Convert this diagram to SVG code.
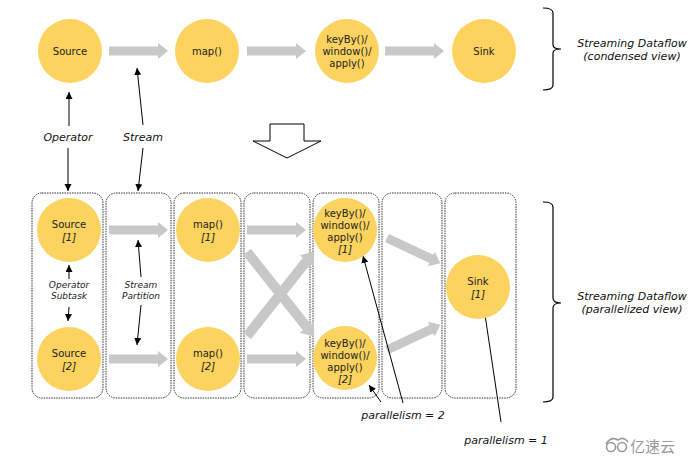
<svg xmlns="http://www.w3.org/2000/svg" width="695" height="459" viewBox="0 0 695 459">
<style>
.op{fill:#FBD35E}
.t{font-family:"DejaVu Sans",Verdana,sans-serif;font-size:10px;fill:#222;text-anchor:middle}
.i{font-style:italic}
.p{font-family:"DejaVu Sans",Verdana,sans-serif;font-size:11px;font-style:italic;fill:#111;text-anchor:middle}
.lab{font-family:"DejaVu Sans",Verdana,sans-serif;font-size:11px;font-style:italic;fill:#111;text-anchor:middle}
.sm{font-family:"DejaVu Sans",Verdana,sans-serif;font-size:9px;font-style:italic;fill:#222;text-anchor:middle}
.box{fill:none;stroke:#333;stroke-width:1;stroke-dasharray:1.5 1}
.ga{fill:#C8C8C8}
.ln{stroke:#000;stroke-width:1;fill:none;marker-end:url(#ah)}
.br{stroke:#000;stroke-width:1.2;fill:none}
</style>
<defs>
<marker id="ah" markerWidth="9" markerHeight="8" refX="7" refY="3.5" orient="auto" markerUnits="userSpaceOnUse">
<path d="M0,0 L7,3.5 L0,7 Z" fill="#000"/>
</marker>
<polygon id="harr" points="0,-4.5 49,-4.5 49,-8 59,0 49,8 49,4.5 0,4.5"/>
<polygon id="darr" points="0,-5 96,-5 96,-9 108,0 96,9 96,5 0,5"/>
</defs>

<g id="big-arrow">
<polygon points="270,124 304,124 304,141 321,141 287,158 253,141 270,141" fill="#fff" stroke="#000" stroke-width="1"/>
</g>

<g id="boxes">
<rect class="box" x="32" y="193" width="71" height="205" rx="10"/>
<rect class="box" x="106" y="193" width="65" height="205" rx="10"/>
<rect class="box" x="174" y="193" width="67" height="205" rx="10"/>
<rect class="box" x="244" y="193" width="66" height="205" rx="10"/>
<rect class="box" x="313" y="193" width="66" height="205" rx="10"/>
<rect class="box" x="382" y="193" width="60" height="205" rx="10"/>
<rect class="box" x="445" y="193" width="71" height="205" rx="10"/>
</g>

<g id="connectors">
<use href="#harr" class="ga" x="109" y="51"/>
<use href="#harr" class="ga" x="247" y="51"/>
<use href="#harr" class="ga" x="385" y="51"/>
<use href="#harr" class="ga" x="109" y="230"/>
<use href="#harr" class="ga" x="109" y="359"/>
<use href="#harr" class="ga" x="247" y="230"/>
<use href="#harr" class="ga" x="247" y="359"/>
<use href="#darr" class="ga" transform="translate(247,252) rotate(51.5)"/>
<use href="#darr" class="ga" transform="translate(247,336) rotate(-51.5)"/>
<use href="#harr" class="ga" transform="translate(387,238) rotate(25.3)"/>
<use href="#harr" class="ga" transform="translate(387,350) rotate(-25.3)"/>

<line class="ln" x1="69" y1="126" x2="69" y2="92"/>
<line class="ln" x1="68" y1="148" x2="68" y2="191"/>
<line class="ln" x1="143" y1="125" x2="137" y2="68"/>
<line class="ln" x1="143" y1="148" x2="138" y2="191"/>
<line class="ln" x1="69" y1="279" x2="69" y2="265"/>
<line class="ln" x1="69" y1="307" x2="68" y2="321"/>
<line class="ln" x1="141" y1="277" x2="138" y2="240"/>
<line class="ln" x1="141" y1="305" x2="137" y2="345"/>
<line class="ln" x1="403" y1="403" x2="363" y2="256"/>
<line class="ln" x1="381" y1="402" x2="369" y2="385"/>
<line class="ln" x1="501" y1="422" x2="484" y2="308"/>
</g>

<g id="source">
<circle class="op" cx="70" cy="51" r="32"/>
<text class="t" x="70" y="55">Source</text>
</g>
<g id="map">
<circle class="op" cx="207" cy="51" r="32"/>
<text class="t" x="207" y="55">map()</text>
</g>
<g id="keyby">
<circle class="op" cx="347" cy="51" r="32"/>
<text class="t" x="347" y="43">keyBy()/</text>
<text class="t" x="347" y="55">window()/</text>
<text class="t" x="347" y="67">apply()</text>
</g>
<g id="sink">
<circle class="op" cx="484" cy="51" r="32"/>
<text class="t" x="484" y="55">Sink</text>
</g>

<g id="source1">
<circle class="op" cx="69" cy="230" r="32"/>
<text class="t" x="69" y="228">Source</text>
<text class="t i" x="69" y="241">[1]</text>
</g>
<g id="source2">
<circle class="op" cx="69" cy="359" r="32"/>
<text class="t" x="69" y="357">Source</text>
<text class="t i" x="69" y="370">[2]</text>
</g>
<g id="map1">
<circle class="op" cx="208" cy="230" r="32"/>
<text class="t" x="208" y="228">map()</text>
<text class="t i" x="208" y="241">[1]</text>
</g>
<g id="map2">
<circle class="op" cx="208" cy="359" r="32"/>
<text class="t" x="208" y="357">map()</text>
<text class="t i" x="208" y="370">[2]</text>
</g>
<g id="keyby1">
<circle class="op" cx="345" cy="230" r="32"/>
<text class="t" x="345" y="217">keyBy()/</text>
<text class="t" x="345" y="229">window()/</text>
<text class="t" x="345" y="241">apply()</text>
<text class="t i" x="345" y="253">[1]</text>
</g>
<g id="keyby2">
<circle class="op" cx="345" cy="358" r="32"/>
<text class="t" x="345" y="347">keyBy()/</text>
<text class="t" x="345" y="359">window()/</text>
<text class="t" x="345" y="371">apply()</text>
<text class="t i" x="345" y="383">[2]</text>
</g>
<g id="sink1">
<circle class="op" cx="478" cy="287" r="32"/>
<text class="t" x="478" y="285">Sink</text>
<text class="t i" x="478" y="298">[1]</text>
</g>

<g id="labels">
<text class="lab" x="68" y="141">Operator</text>
<text class="lab" x="143" y="141">Stream</text>
<text class="sm" x="69" y="288">Operator</text>
<text class="sm" x="69" y="299">Subtask</text>
<text class="sm" x="141" y="288">Stream</text>
<text class="sm" x="141" y="299">Partition</text>
<text class="p" x="403" y="419">parallelism = 2</text>
<text class="p" x="506" y="444">parallelism = 1</text>
</g>

<g id="brackets">
<path class="br" d="M543,8 Q553,8 553,13 L553,45 Q553,49 561,49 Q553,49 553,53 L553,85 Q553,90 543,90"/>
<text class="lab" x="632" y="47">Streaming Dataflow</text>
<text class="lab" x="632" y="60">(condensed view)</text>
<path class="br" d="M543,202 Q553,202 553,207 L553,298 Q553,303 561,303 Q553,303 553,308 L553,397 Q553,402 543,402"/>
<text class="lab" x="632" y="300">Streaming Dataflow</text>
<text class="lab" x="632" y="313">(parallelized view)</text>
</g>

<g id="watermark" fill="none" stroke="#9a9a9a" stroke-width="1.6">
<circle cx="611" cy="447" r="4.5"/>
<circle cx="622" cy="447" r="4.5"/>
<path d="M606,444 Q611,436 618,440 Q624,436 628,442"/>
<text x="630" y="452" fill="#9a9a9a" stroke="none" font-family="Noto Sans CJK SC, sans-serif" font-size="15">亿速云</text>
</g>
</svg>
